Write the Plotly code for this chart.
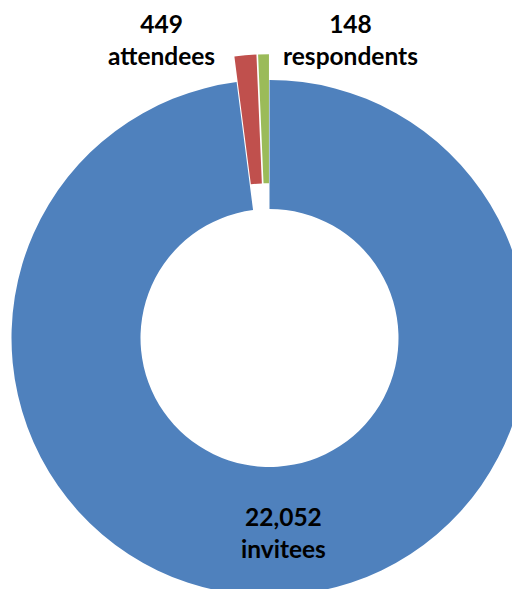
import math
import plotly.graph_objects as go

# ---- data ----
labels = ["invitees", "attendees", "respondents"]
counts = [22052, 449, 148]          # numbers printed on the chart
# nested groups: respondents are part of attendees, attendees part of invitees
slice_values = [counts[0] - counts[1], counts[1] - counts[2], counts[2]]
colors = ["#4F81BD", "#C0504D", "#9BBB59"]
pulls = [0.0, 0.1, 0.1]

# ---- layout geometry (figure pixel coordinates) ----
W, H = 520, 589
CX, CY, R = 261.5, 330.0, 258.0   # donut centre / outer radius
HOLE = 0.5

total = float(sum(slice_values))
fig = go.Figure()
cum = 0.0
for i, v in enumerate(slice_values):
    mid = (cum + v / 2.0) / total * 2 * math.pi   # clockwise from 12 o'clock
    cum += v
    dx = R * pulls[i] * math.sin(mid)
    dy = -R * pulls[i] * math.cos(mid)
    cx, cy = CX + dx, CY + dy
    dom_x = [max(0.0, (cx - R) / W), min(1.0, (cx + R) / W)]
    dom_y = [max(0.0, 1 - (cy + R) / H), min(1.0, 1 - (cy - R) / H)]
    mcolors = [colors[j] if j == i else "rgba(0,0,0,0)" for j in range(len(slice_values))]
    fig.add_trace(go.Pie(
        labels=labels,
        values=slice_values,
        customdata=counts,
        sort=False,
        direction="clockwise",
        rotation=0,
        hole=HOLE,
        textinfo="none",
        marker=dict(colors=mcolors, line=dict(width=0)),
        domain=dict(x=dom_x, y=dom_y),
        hovertemplate="%{label}: %{customdata:,}<extra></extra>",
        showlegend=False,
    ))

# data labels (figure pixel positions)
label_pos = [(275, 524.5), (153, 31.5), (342.5, 31.5)]
for (px, py), c, lab in zip(label_pos, counts, labels):
    fig.add_annotation(
        x=px / W, y=1 - py / H, xref="paper", yref="paper",
        xanchor="center", yanchor="middle", showarrow=False,
        text=f"<b>{c:,}<br>{lab}</b>",
        font=dict(family="Lato", size=24.5, color="#000000"),
    )

fig.update_layout(
    width=W, height=H,
    margin=dict(l=0, r=0, t=0, b=0),
    paper_bgcolor="white", plot_bgcolor="white",
)
fig.write_html("out.html")
